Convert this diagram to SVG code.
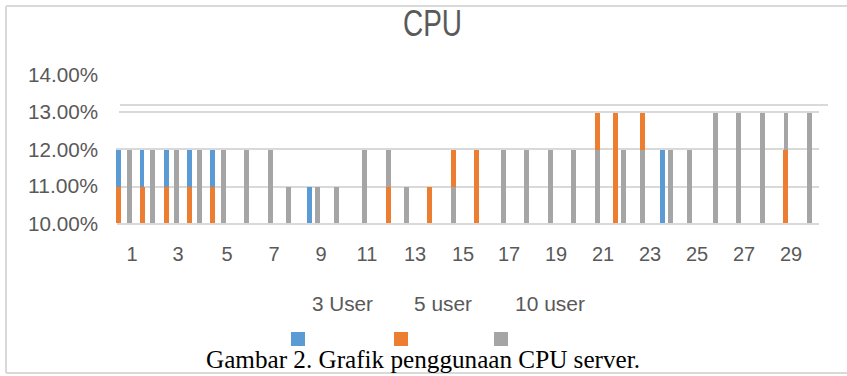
<svg xmlns="http://www.w3.org/2000/svg" width="847" height="376" viewBox="0 0 847 376">
<style>
.grid{stroke:#d9d9d9;stroke-width:2;fill:none}
.frame{stroke:#d9d9d9;stroke-width:2;fill:none}
.b{fill:#5b9bd5}
.o{fill:#ed7d31}
.g{fill:#a5a5a5}
.lab{font-family:"Liberation Sans",Arial,sans-serif;font-size:20px;fill:#595959}
.ax{text-anchor:middle}
.yl{text-anchor:end}
.cap{font-family:"Liberation Serif","Times New Roman",serif;font-size:25px;fill:#000}
</style>
<rect x="0" y="0" width="847" height="376" fill="#fff"/>
<g id="frame">
<path class="frame" d="M6 6 H847 M6 6 V373 M6 373 H847"/>
</g>
<g id="title">
<text x="432.5" y="36" class="lab" style="font-size:36px" text-anchor="middle" textLength="59" lengthAdjust="spacingAndGlyphs">CPU</text>
</g>
<g id="gridlines">
<line class="grid" x1="120" y1="105" x2="828" y2="105"/>
<line class="grid" x1="119" y1="112" x2="819" y2="112"/>
<line class="grid" x1="116" y1="149" x2="819" y2="149"/>
<line class="grid" x1="116" y1="187" x2="819" y2="187"/>
<line class="grid" x1="117" y1="224" x2="819" y2="224"/>
</g>
<g id="y-axis" class="lab yl">
<text x="98" y="82" textLength="70" lengthAdjust="spacingAndGlyphs">14.00%</text>
<text x="98" y="119" textLength="70" lengthAdjust="spacingAndGlyphs">13.00%</text>
<text x="98" y="157" textLength="70" lengthAdjust="spacingAndGlyphs">12.00%</text>
<text x="98" y="193" textLength="70" lengthAdjust="spacingAndGlyphs">11.00%</text>
<text x="98" y="231" textLength="70" lengthAdjust="spacingAndGlyphs">10.00%</text>
</g>
<g id="x-axis" class="lab ax">
<text x="132" y="261">1</text>
<text x="178" y="261">3</text>
<text x="227" y="261">5</text>
<text x="274" y="261">7</text>
<text x="321" y="261">9</text>
<text x="367" y="261">11</text>
<text x="415" y="261">13</text>
<text x="463" y="261">15</text>
<text x="509" y="261">17</text>
<text x="556" y="261">19</text>
<text x="603" y="261">21</text>
<text x="650" y="261">23</text>
<text x="697" y="261">25</text>
<text x="744" y="261">27</text>
<text x="791" y="261">29</text>
</g>
<g id="series-3-user">
<rect class="b" x="116" y="150" width="5" height="37"/>
<rect class="b" x="140" y="150" width="4" height="37"/>
<rect class="b" x="164" y="150" width="5" height="37"/>
<rect class="b" x="187" y="150" width="5" height="37"/>
<rect class="b" x="210" y="150" width="5" height="37"/>
<rect class="b" x="307" y="187" width="5" height="36"/>
<rect class="b" x="660" y="150" width="5" height="73"/>
</g>
<g id="series-5-user">
<rect class="o" x="116" y="187" width="5" height="36"/>
<rect class="o" x="140" y="187" width="5" height="36"/>
<rect class="o" x="164" y="187" width="5" height="36"/>
<rect class="o" x="187" y="187" width="5" height="36"/>
<rect class="o" x="210" y="187" width="5" height="36"/>
<rect class="o" x="386" y="187" width="5" height="36"/>
<rect class="o" x="427" y="187" width="5" height="36"/>
<rect class="o" x="451" y="150" width="5" height="37"/>
<rect class="o" x="474" y="150" width="5" height="73"/>
<rect class="o" x="595" y="113" width="5" height="37"/>
<rect class="o" x="613" y="113" width="5" height="110"/>
<rect class="o" x="640" y="113" width="5" height="37"/>
<rect class="o" x="783" y="150" width="5" height="73"/>
</g>
<g id="series-10-user">
<rect class="g" x="127" y="150" width="5" height="73"/>
<rect class="g" x="150" y="150" width="5" height="73"/>
<rect class="g" x="174" y="150" width="5" height="73"/>
<rect class="g" x="197" y="150" width="5" height="73"/>
<rect class="g" x="221" y="150" width="5" height="73"/>
<rect class="g" x="244" y="150" width="5" height="73"/>
<rect class="g" x="268" y="150" width="5" height="73"/>
<rect class="g" x="286" y="187" width="5" height="36"/>
<rect class="g" x="315" y="187" width="5" height="36"/>
<rect class="g" x="334" y="187" width="5" height="36"/>
<rect class="g" x="362" y="150" width="5" height="73"/>
<rect class="g" x="386" y="150" width="5" height="37"/>
<rect class="g" x="404" y="187" width="5" height="36"/>
<rect class="g" x="451" y="187" width="5" height="36"/>
<rect class="g" x="501" y="150" width="5" height="73"/>
<rect class="g" x="524" y="150" width="5" height="73"/>
<rect class="g" x="548" y="150" width="5" height="73"/>
<rect class="g" x="571" y="150" width="5" height="73"/>
<rect class="g" x="595" y="150" width="5" height="73"/>
<rect class="g" x="621" y="150" width="5" height="73"/>
<rect class="g" x="640" y="150" width="5" height="73"/>
<rect class="g" x="668" y="150" width="5" height="73"/>
<rect class="g" x="687" y="150" width="5" height="73"/>
<rect class="g" x="713" y="113" width="5" height="110"/>
<rect class="g" x="736" y="113" width="5" height="110"/>
<rect class="g" x="760" y="113" width="5" height="110"/>
<rect class="g" x="784" y="113" width="4" height="37"/>
<rect class="g" x="807" y="113" width="5" height="110"/>
</g>
<g id="legend">
<text class="lab" x="312" y="311" textLength="61" lengthAdjust="spacingAndGlyphs">3 User</text>
<text class="lab" x="414" y="311" textLength="58" lengthAdjust="spacingAndGlyphs">5 user</text>
<text class="lab" x="515" y="311" textLength="70" lengthAdjust="spacingAndGlyphs">10 user</text>
<rect class="b" x="291" y="332" width="14" height="14"/>
<rect class="o" x="394" y="332" width="14" height="14"/>
<rect class="g" x="494" y="332" width="14" height="14"/>
</g>
<g id="caption">
<text class="cap" x="206" y="368" textLength="434" lengthAdjust="spacingAndGlyphs">Gambar 2. Grafik penggunaan CPU server.</text>
</g>
</svg>
